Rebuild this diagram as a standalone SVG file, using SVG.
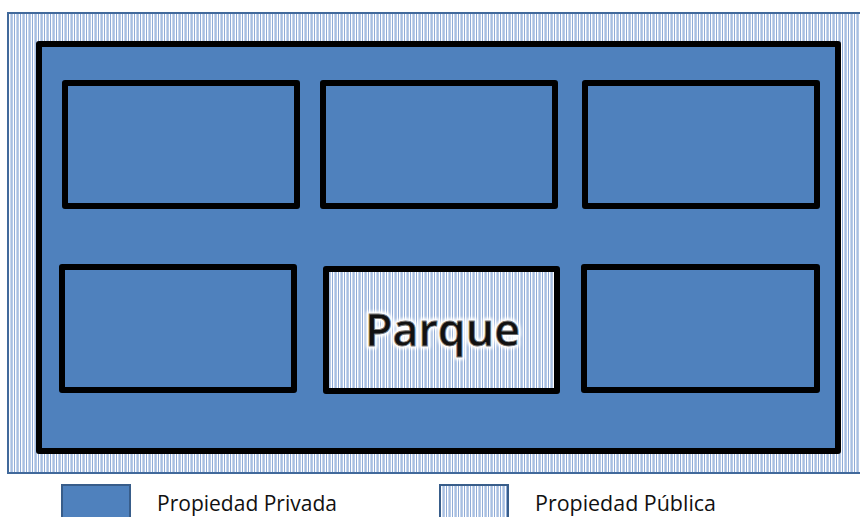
<svg xmlns="http://www.w3.org/2000/svg" width="860" height="517" viewBox="0 0 860 517">
  <defs>
    <!-- thin vertical hatching used for public land -->
    <pattern id="stripes" width="6" height="10" patternUnits="userSpaceOnUse">
      <rect width="6" height="10" fill="#ffffff"/>
      <rect x="0" width="1" height="10" fill="#b9cbe6"/>
      <rect x="2" width="1" height="10" fill="#8fabd7"/>
      <rect x="4" width="1" height="10" fill="#c8d6ec"/>
      <rect x="5" width="1" height="10" fill="#a7bfe2"/>
    </pattern>
    <filter id="glow" x="-10%" y="-20%" width="120%" height="140%">
      <feGaussianBlur stdDeviation="1.5"/>
    </filter>
    <style>
      .public { fill: url(#stripes); stroke: #41699b; stroke-width: 2; }
      .private { fill: #4f81bd; stroke: #000; stroke-width: 6; stroke-linejoin: round; }
      .block { fill: #4f81bd; stroke: #000; stroke-width: 6; stroke-linejoin: round; }
      .park { fill: url(#stripes); stroke: #000; stroke-width: 6; stroke-linejoin: round; }
      .legend-private { fill: #4f81bd; stroke: #385d8a; stroke-width: 2; }
      .legend-public { fill: url(#stripes); stroke: #385d8a; stroke-width: 2; }
      .legend-text { font-family: "Open Sans", "Noto Sans", sans-serif; font-size: 21px; fill: #111; }
      .park-label { font-family: "Open Sans", "Noto Sans", sans-serif; font-size: 46px; font-weight: 600; }
    </style>
  </defs>

  <rect width="860" height="517" fill="#ffffff"/>

  <!-- public ground around the estate -->
  <g id="public-ground">
    <rect class="public" x="8" y="13" width="856" height="460"/>
  </g>

  <!-- private estate -->
  <g id="estate">
    <rect class="private" x="39" y="44" width="799" height="407"/>
  </g>

  <!-- blocks -->
  <g id="block-1"><rect class="block" x="65" y="83" width="232" height="123"/></g>
  <g id="block-2"><rect class="block" x="323" y="83" width="232" height="123"/></g>
  <g id="block-3"><rect class="block" x="585" y="83" width="232" height="123"/></g>
  <g id="block-4"><rect class="block" x="62" y="267" width="232" height="123"/></g>
  <g id="park">
    <rect class="park" x="326" y="269" width="231" height="122"/>
    <text class="park-label" x="442.5" y="346" text-anchor="middle" textLength="155" lengthAdjust="spacingAndGlyphs" fill="none" stroke="#ffffff" stroke-width="6" stroke-linejoin="round" filter="url(#glow)">Parque</text>
    <text class="park-label" x="442.5" y="346" text-anchor="middle" textLength="155" lengthAdjust="spacingAndGlyphs" fill="#111" stroke="#777" stroke-width="0.8">Parque</text>
  </g>
  <g id="block-6"><rect class="block" x="584" y="267" width="233" height="123"/></g>

  <g id="connectors"/>

  <!-- legend -->
  <g id="legend-private">
    <rect class="legend-private" x="62" y="485" width="68" height="40"/>
    <text class="legend-text" x="157" y="511" textLength="180" lengthAdjust="spacingAndGlyphs">Propiedad Privada</text>
  </g>
  <g id="legend-public">
    <rect class="legend-public" x="440" y="485" width="68" height="40"/>
    <text class="legend-text" x="535" y="511" textLength="181" lengthAdjust="spacingAndGlyphs">Propiedad Pública</text>
  </g>
</svg>
